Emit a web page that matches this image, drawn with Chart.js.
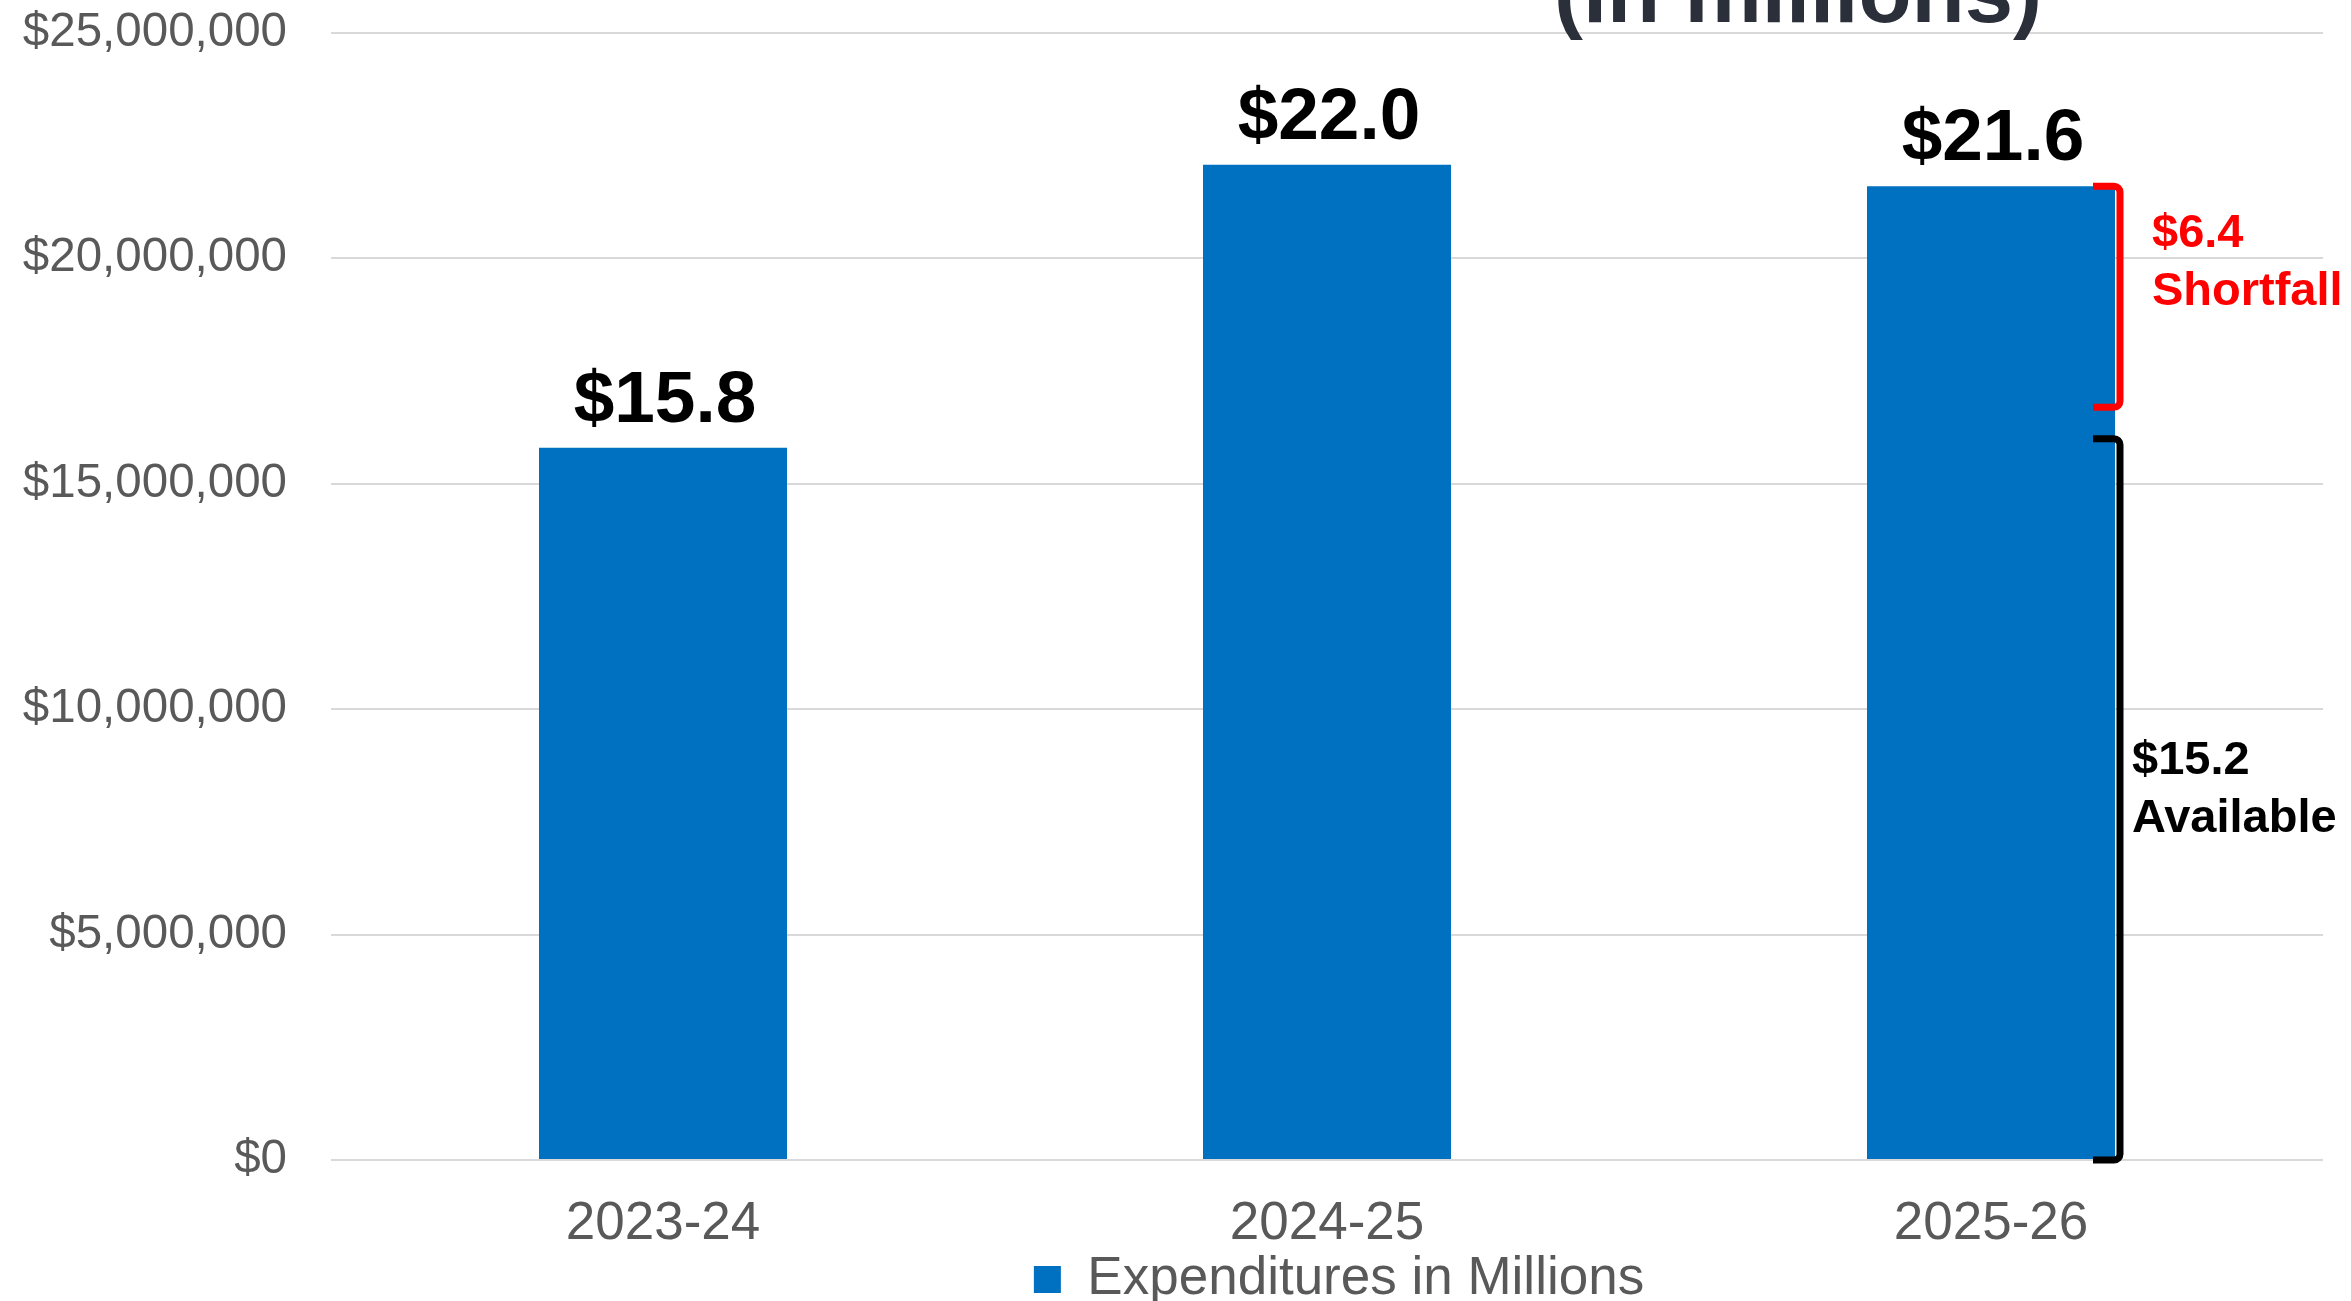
<!DOCTYPE html>
<html>
<head>
<meta charset="utf-8">
<script src="https://cdn.jsdelivr.net/npm/chart.js@4"></script>
<style>
  html, body { margin: 0; padding: 0; background: #ffffff; }
  #wrap { width: 2351px; height: 1301px; }
</style>
</head>
<body>
<div id="wrap"><canvas id="expChart"></canvas></div>
<script>
// Chart values
const categories = ['2023-24', '2024-25', '2025-26'];
const expenditures = [15800000, 22080000, 21600000];
const valueLabels = ['$15.8', '$22.0', '$21.6'];
const yMax = 25000000;
const yStep = 5000000;

// Bracket annotations on the 2025-26 bar (value ranges)
const shortfallRange = [21600000, 16700000];
const availableRange = [16000000, 0];
const shortfallText = ['$6.4', 'Shortfall'];
const availableText = ['$15.2', 'Available'];
const shortfallTextAt = 19900000;
const availableTextAt = 8200000;

const titleText = '(in millions)';

Chart.defaults.font.family = '"Liberation Sans", Arial, sans-serif';

const annotations = {
    id: 'annotations',
    afterLayout(chart) {
        // nudge legend a bit right, like the original
        chart.legend.left += 12;
        chart.legend.right += 12;
    },
    afterDatasetsDraw(chart) {
        const ctx = chart.ctx;
        const y = chart.scales.y;
        const meta = chart.getDatasetMeta(0);

        // value labels above bars
        ctx.save();
        ctx.fillStyle = '#000000';
        ctx.font = 'bold 73px "Liberation Sans", Arial, sans-serif';
        ctx.textAlign = 'center';
        ctx.textBaseline = 'alphabetic';
        meta.data.forEach((bar, i) => {
            ctx.fillText(valueLabels[i], bar.x + 2, bar.y - 26);
        });
        ctx.restore();

        // brackets next to last bar
        const last = meta.data[meta.data.length - 1];
        const bx = last.x + last.width / 2 + 5;

        function bracket(range, color) {
            const top = y.getPixelForValue(range[0]);
            const bot = y.getPixelForValue(range[1]);
            ctx.save();
            ctx.strokeStyle = color;
            ctx.lineWidth = 7;
            ctx.lineJoin = 'round';
            ctx.beginPath();
            ctx.moveTo(bx - 27, top);
            ctx.arcTo(bx, top, bx, bot, 6);
            ctx.arcTo(bx, bot, bx - 27, bot, 6);
            ctx.lineTo(bx - 27, bot);
            ctx.stroke();
            ctx.restore();
        }
        bracket(shortfallRange, '#FF0000');
        bracket(availableRange, '#000000');

        function label(lines, at, color, dx) {
            const cy = y.getPixelForValue(at);
            ctx.save();
            ctx.fillStyle = color;
            ctx.font = 'bold 47px "Liberation Sans", Arial, sans-serif';
            ctx.textAlign = 'left';
            ctx.textBaseline = 'middle';
            ctx.fillText(lines[0], bx + dx, cy - 29);
            ctx.fillText(lines[1], bx + dx, cy + 29);
            ctx.restore();
        }
        label(shortfallText, shortfallTextAt, '#FF0000', 32);
        label(availableText, availableTextAt, '#000000', 12);
    },
    afterDraw(chart) {
        // title, mostly cut off at the top of the picture
        const ctx = chart.ctx;
        ctx.save();
        ctx.fillStyle = '#2B2F3A';
        ctx.font = 'bold 87px "Liberation Sans", Arial, sans-serif';
        ctx.textAlign = 'center';
        ctx.textBaseline = 'alphabetic';
        ctx.fillText(titleText, 1798, 22);
        ctx.restore();
    }
};

new Chart(document.getElementById('expChart'), {
    type: 'bar',
    data: {
        labels: categories,
        datasets: [{
            label: 'Expenditures in Millions',
            data: expenditures,
            backgroundColor: '#0070C0',
            borderWidth: 0,
            barPercentage: 0.3735,
            categoryPercentage: 1.0
        }]
    },
    options: {
        responsive: true,
        maintainAspectRatio: false,
        animation: false,
        layout: {
            padding: { top: 33, left: 0, right: 28, bottom: -15 }
        },
        plugins: {
            legend: {
                position: 'bottom',
                fullSize: false,
                labels: {
                    boxWidth: 27,
                    boxHeight: 27,
                    padding: 0,
                    color: '#595959',
                    font: { size: 53 }
                }
            },
            tooltip: { enabled: false }
        },
        scales: {
            x: {
                grid: { display: false, drawTicks: false },
                border: { display: false },
                ticks: {
                    color: '#595959',
                    padding: 35,
                    font: { size: 53, lineHeight: 1.1 }
                },
                afterFit(scale) { scale.height = 93; }
            },
            y: {
                min: 0,
                max: yMax,
                grid: { color: '#D9D9D9', lineWidth: 2, drawTicks: false },
                border: { display: false },
                ticks: {
                    stepSize: yStep,
                    color: '#595959',
                    padding: 44,
                    font: { size: 47.5 },
                    callback: v => '$' + v.toLocaleString('en-US')
                },
                afterFit(scale) {
                    scale.width = 331;
                    scale.paddingTop = 0;
                    scale.paddingBottom = 0;
                }
            }
        }
    },
    plugins: [annotations]
});
</script>
</body>
</html>
